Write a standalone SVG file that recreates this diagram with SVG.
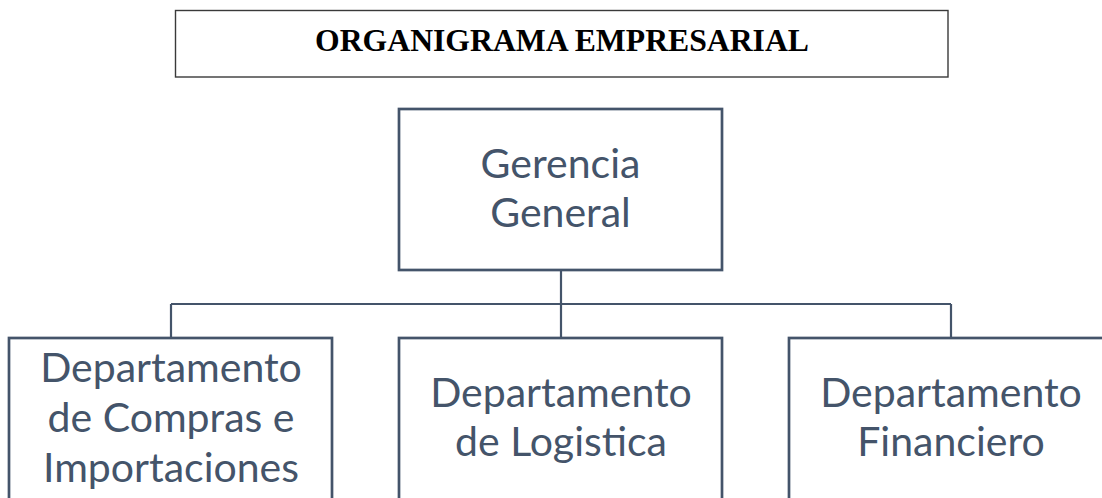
<svg xmlns="http://www.w3.org/2000/svg" width="1102" height="498" viewBox="0 0 1102 498">
<style>
.box{fill:#ffffff;stroke:#44546A;stroke-width:2.7}
.lbl{font-family:Lato,"Open Sans","Liberation Sans",sans-serif;font-size:41px;fill:#44546A;text-anchor:middle}
.conn{fill:none;stroke:#44546A;stroke-width:2.2}
.title{font-family:"Liberation Serif","Times New Roman",serif;font-weight:bold;font-size:31.7px;fill:#000;text-anchor:middle}
</style>
<rect width="1102" height="498" fill="#ffffff"/>
<g id="title">
<rect x="175.5" y="10.5" width="772.5" height="66.5" fill="#ffffff" stroke="#3a3a3a" stroke-width="1.4"/>
<text class="title" x="562" y="51">ORGANIGRAMA EMPRESARIAL</text>
</g>
<g id="connectors">
<path class="conn" d="M561 270 V338 M171 304 H951 M171 304 V338 M951 304 V338"/>
</g>
<g id="gerencia">
<rect class="box" x="399" y="109" width="323" height="161"/>
<text class="lbl" x="560.5" y="178">Gerencia</text>
<text class="lbl" x="560.5" y="227">General</text>
</g>
<g id="compras">
<rect class="box" x="9" y="338" width="323" height="180"/>
<text class="lbl" x="171" y="382">Departamento</text>
<text class="lbl" x="171" y="432">de Compras e</text>
<text class="lbl" x="171" y="482">Importaciones</text>
</g>
<g id="logistica">
<rect class="box" x="399" y="338" width="323" height="180"/>
<text class="lbl" x="561" y="407">Departamento</text>
<text class="lbl" x="561" y="456">de Logistica</text>
</g>
<g id="financiero">
<rect class="box" x="789" y="338" width="324" height="180"/>
<text class="lbl" x="951" y="407">Departamento</text>
<text class="lbl" x="951" y="456">Financiero</text>
</g>
</svg>
